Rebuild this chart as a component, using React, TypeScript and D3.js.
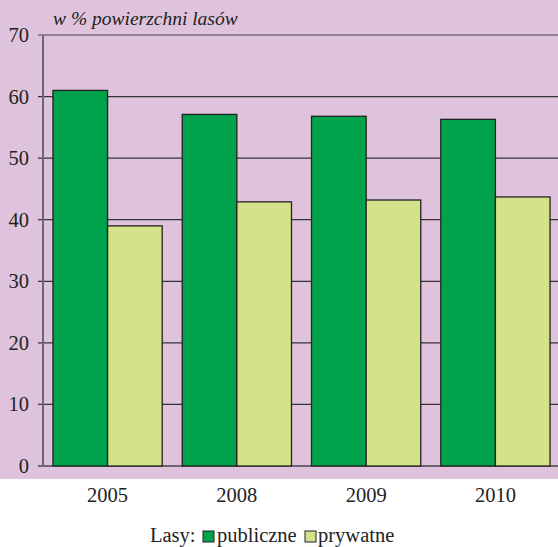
import React from "react";
import * as d3 from "d3";

const categories = ["2005", "2008", "2009", "2010"];
const publiczne = [61.0, 57.1, 56.8, 56.3];
const prywatne = [39.0, 42.9, 43.2, 43.7];
const yTicks = [0, 10, 20, 30, 40, 50, 60, 70];

export default function App() {
  const W = 558, H = 547;
  const left = 43, right = 560, top = 35, bottom = 466;
  const x = d3.scaleBand().domain(categories).range([left, right]).paddingInner(0.155).paddingOuter(0.077);
  const y = d3.scaleLinear().domain([0, 70]).range([bottom, top]);
  const bw = x.bandwidth() / 2;
  const font = "Liberation Serif, Times New Roman, serif";
  const ts = { fontFamily: font };
  return (
    <svg width={W} height={H} style={{ position: "absolute", left: 0, top: 0 }}>
      <rect x={0} y={0} width={W} height={479} fill="#dfc3dc" />
      <text x={53} y={25} fontSize={19.5} fontStyle="italic" fill="#222" style={ts}>w % powierzchni lasów</text>
      {yTicks.map(t => (
        <g key={t}>
          <line x1={38} x2={W} y1={y(t)} y2={y(t)} stroke={t === 0 ? "#6e6570" : t === 70 ? "#7a6d78" : "#333"} strokeWidth={t === 0 ? 2 : 1.3} />
          <text x={29} y={y(t) + 7} fontSize={20.5} textAnchor="end" fill="#222" style={ts}>{t}</text>
        </g>
      ))}
      <line x1={43} x2={43} y1={top} y2={bottom + 1} stroke="#6e6570" strokeWidth={2} />
      {categories.map((c, i) => (
        <g key={c}>
          <rect x={x(c)!} y={y(publiczne[i])} width={bw} height={bottom - y(publiczne[i])} fill="#00a24c" stroke="#222" strokeWidth={1.3} />
          <rect x={x(c)! + bw} y={y(prywatne[i])} width={bw} height={bottom - y(prywatne[i])} fill="#d4e28a" stroke="#222" strokeWidth={1.3} />
          <text x={x(c)! + x.bandwidth() / 2} y={502} fontSize={20.5} textAnchor="middle" fill="#222" style={ts}>{c}</text>
        </g>
      ))}
      <g fontSize={20.5} fill="#222" style={ts}>
        <text x={150} y={542}>Lasy:</text>
        <rect x={203} y={531} width={11} height={11} fill="#00a24c" stroke="#222" strokeWidth={1} />
        <text x={217} y={542}>publiczne</text>
        <rect x={305} y={531} width={11} height={11} fill="#d4e28a" stroke="#222" strokeWidth={1} />
        <text x={318} y={542}>prywatne</text>
      </g>
    </svg>
  );
}
